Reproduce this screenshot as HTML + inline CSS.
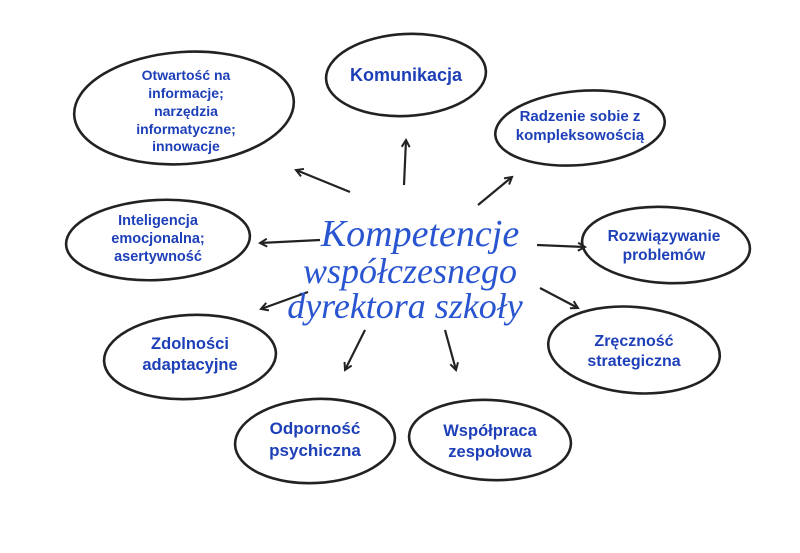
<!DOCTYPE html>
<html><head><meta charset="utf-8"><style>
html,body{margin:0;padding:0;background:#fff;width:800px;height:553px;overflow:hidden}
svg{display:block}
.l{font-family:"Liberation Sans",sans-serif;font-weight:bold;fill:#1d3fb8;text-anchor:middle}
.t{font-family:"Liberation Serif",serif;font-style:italic;fill:#2a55d0;text-anchor:middle}
</style></head><body>
<svg width="800" height="553" viewBox="0 0 800 553">
<defs><marker id="a" markerWidth="10" markerHeight="10" refX="8" refY="5" orient="auto" markerUnits="userSpaceOnUse">
<path d="M1,1 L8,5 L1,9" fill="none" stroke="#222" stroke-width="2"/></marker></defs>
<g fill="none" stroke="#222" stroke-width="2.6">
<ellipse cx="406" cy="75" rx="80" ry="41" transform="rotate(-3 406 75)"/>
<ellipse cx="184" cy="108" rx="110" ry="56" transform="rotate(-4 184 108)"/>
<ellipse cx="580" cy="128" rx="85" ry="37" transform="rotate(-5 580 128)"/>
<ellipse cx="158" cy="240" rx="92" ry="40" transform="rotate(-3 158 240)"/>
<ellipse cx="666" cy="245" rx="84" ry="38" transform="rotate(3 666 245)"/>
<ellipse cx="190" cy="357" rx="86" ry="42" transform="rotate(-3 190 357)"/>
<ellipse cx="634" cy="350" rx="86" ry="43" transform="rotate(5 634 350)"/>
<ellipse cx="315" cy="441" rx="80" ry="42" transform="rotate(-3 315 441)"/>
<ellipse cx="490" cy="440" rx="81" ry="40" transform="rotate(3 490 440)"/>
</g>
<g stroke="#222" stroke-width="2.2" fill="none" marker-end="url(#a)">
<path d="M404,185 L406,140"/>
<path d="M350,192 L296,170"/>
<path d="M478,205 L512,177"/>
<path d="M320,240 L260,243"/>
<path d="M537,245 L585,247"/>
<path d="M308,292 L261,309"/>
<path d="M540,288 L578,308"/>
<path d="M365,330 L345,370"/>
<path d="M445,330 L456,370"/>
</g>
<text class="t" font-size="38" x="420" y="246">Kompetencje</text>
<text class="t" font-size="36" x="410" y="283">współczesnego</text>
<text class="t" font-size="36" x="405" y="318">dyrektora szkoły</text>
<g class="l">
<text x="406" y="81" font-size="18">Komunikacja</text>
<text x="186" y="80" font-size="14">Otwartość na</text>
<text x="186" y="98" font-size="14">informacje;</text>
<text x="186" y="116" font-size="14">narzędzia</text>
<text x="186" y="134" font-size="14">informatyczne;</text>
<text x="186" y="151" font-size="14">innowacje</text>
<text x="580" y="121" font-size="15">Radzenie sobie z</text>
<text x="580" y="140" font-size="15">kompleksowością</text>
<text x="158" y="225" font-size="14.5">Inteligencja</text>
<text x="158" y="243" font-size="14.5">emocjonalna;</text>
<text x="158" y="261" font-size="14.5">asertywność</text>
<text x="664" y="241" font-size="15.5">Rozwiązywanie</text>
<text x="664" y="260" font-size="15.5">problemów</text>
<text x="190" y="349" font-size="16.5">Zdolności</text>
<text x="190" y="370" font-size="16.5">adaptacyjne</text>
<text x="634" y="346" font-size="16">Zręczność</text>
<text x="634" y="366" font-size="16">strategiczna</text>
<text x="315" y="434" font-size="17">Odporność</text>
<text x="315" y="456" font-size="17">psychiczna</text>
<text x="490" y="436" font-size="16.5">Współpraca</text>
<text x="490" y="457" font-size="16.5">zespołowa</text>
</g>
</svg>
</body></html>
